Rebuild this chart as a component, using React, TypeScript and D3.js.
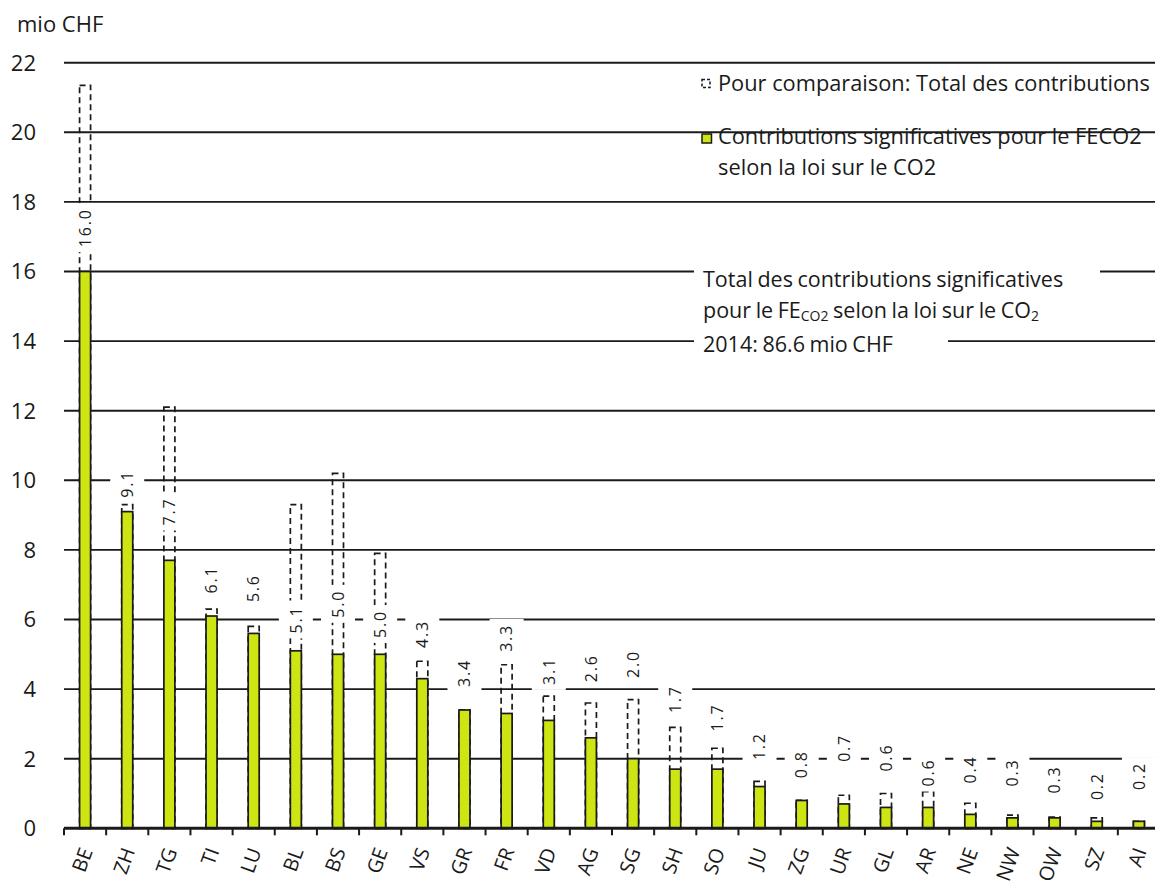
import React from "react";
import * as d3 from "d3";

// Cantons, ordered by their significant contributions
const cantons = ["BE","ZH","TG","TI","LU","BL","BS","GE","VS","GR","FR","VD","AG","SG","SH","SO","JU","ZG","UR","GL","AR","NE","NW","OW","SZ","AI"];

// Contributions significatives pour le FE CO2 (mio CHF)
const significant = [16.0,9.1,7.7,6.1,5.6,5.1,5.0,5.0,4.3,3.4,3.3,3.1,2.6,2.0,1.7,1.7,1.2,0.8,0.7,0.6,0.6,0.4,0.3,0.3,0.2,0.2];

// Total des contributions, for comparison (mio CHF)
const totals = [21.35,9.3,12.1,6.3,5.8,9.3,10.2,7.9,4.8,3.4,4.7,3.8,3.6,3.7,2.9,2.3,1.35,0.8,0.95,1.0,1.05,0.72,0.38,0.32,0.3,0.2];

// Value (in mio CHF) at which each rotated value label begins
const labelBase = [16.7,9.5,8.7,6.75,6.5,5.6,6.05,5.47,5.18,4.06,5.07,4.12,4.2,4.32,3.31,2.78,1.96,1.44,1.91,1.63,1.2,1.29,1.2,1.0,0.81,1.1];

const yTicks = [0,2,4,6,8,10,12,14,16,18,20,22];

const W = 1155;
const H = 881;
const FONT = "'Open Sans', 'Noto Sans', sans-serif";
const GREEN = "#cde512";
const INK = "#1a1a1a";

export default function App() {
  const x = d3.scaleBand<string>().domain(cantons).range([64, 1160]).padding(0);
  const y = d3.scaleLinear().domain([0, 22]).range([828.3, 62.7]);
  const bw = x.bandwidth();
  const barW = 11;

  const fmt = d3.format(".1f");
  // rough advance of the rotated labels (16px font, 1.8px letter spacing)
  const labelLen = (s: string) =>
    s.split("").reduce((acc, c) => acc + (c === "." ? 4.3 : 9.1) + 1.8, 0);

  return (
    <svg width={W} height={H} style={{ position: "absolute", left: 0, top: 0, background: "#fff" }} fontFamily={FONT}>
      {/* unit */}
      <text x={17} y={32} fontSize={22} fill={INK}>mio CHF</text>

      {/* gridlines */}
      {yTicks.filter(t => t > 0).map(t => (
        <line key={"g" + t} x1={64} x2={W} y1={y(t)} y2={y(t)} stroke={INK} strokeWidth={1.9} />
      ))}

      {/* y tick labels */}
      {yTicks.map(t => (
        <text key={"yt" + t} x={36} y={y(t)} dy="0.36em" textAnchor="end" fontSize={22} fill={INK}>{t}</text>
      ))}

      {/* annotation */}
      <rect x={694} y={256} width={406} height={68} fill="#fff" />
      <rect x={694} y={327} width={254} height={32} fill="#fff" />
      <text x={703} y={287} fontSize={21.5} fill={INK} wordSpacing={-1}>Total des contributions significatives</text>
      <text x={703} y={318} fontSize={21.5} fill={INK} wordSpacing={-1}>
        pour le FE<tspan fontSize={14} dy={3}>CO2</tspan><tspan dy={-3}> selon la loi sur le CO</tspan><tspan fontSize={14} dy={3}>2</tspan>
      </text>
      <text x={703} y={352} fontSize={21.5} fill={INK} wordSpacing={-1}>2014: 86.6 mio CHF</text>

      {/* legend */}
      <rect x={702} y={79.5} width={8} height={8} fill="none" stroke={INK} strokeWidth={1.5} strokeDasharray="3,2" />
      <text x={718} y={91} fontSize={21.8} fill={INK}>Pour comparaison: Total des contributions</text>
      <rect x={702} y={134} width={9.5} height={9} fill={GREEN} stroke={INK} strokeWidth={1.5} />
      <text x={718} y={144} fontSize={21.8} fill={INK}>Contributions significatives pour le FECO2</text>
      <text x={718} y={175} fontSize={21.8} fill={INK}>selon la loi sur le CO2</text>

      {/* totals (dashed outlines) */}
      {cantons.map((c, i) => {
        const cx = (x(c) as number) + bw / 2;
        return (
          <rect key={"t" + c} x={cx - barW / 2} y={y(totals[i])} width={barW} height={y(0) - y(totals[i])}
            fill="none" stroke={INK} strokeWidth={1.7} strokeDasharray="6,4" />
        );
      })}

      {/* significant contributions */}
      {cantons.map((c, i) => {
        const cx = (x(c) as number) + bw / 2;
        return (
          <rect key={"s" + c} x={cx - barW / 2} y={y(significant[i])} width={barW} height={y(0) - y(significant[i])}
            fill={GREEN} stroke={INK} strokeWidth={1.7} />
        );
      })}

      {/* value labels on white boxes */}
      {cantons.map((c, i) => {
        const cx = (x(c) as number) + bw / 2;
        const s = fmt(significant[i]);
        const len = labelLen(s);
        const yb = y(labelBase[i]);
        return (
          <g key={"l" + c}>
            <rect x={cx - 17} y={yb - len - 5} width={34} height={len + 10} fill="#fff" />
            <text transform={`translate(${cx + 5.8},${yb}) rotate(-90)`} fontSize={16} letterSpacing={1.8} fill={INK}>{s}</text>
          </g>
        );
      })}

      {/* x axis */}
      <line x1={64} x2={W} y1={y(0)} y2={y(0)} stroke={INK} strokeWidth={3} />
      {cantons.map(c => (
        <line key={"tk" + c} x1={x(c) as number} x2={x(c) as number} y1={y(0)} y2={y(0) + 7} stroke={INK} strokeWidth={2} />
      ))}
      {cantons.map(c => {
        const cx = (x(c) as number) + bw / 2;
        return (
          <text key={"xl" + c} transform={`translate(${cx + 8},${851}) rotate(-70)`} textAnchor="end" fontSize={20} fill={INK}>{c}</text>
        );
      })}
    </svg>
  );
}
